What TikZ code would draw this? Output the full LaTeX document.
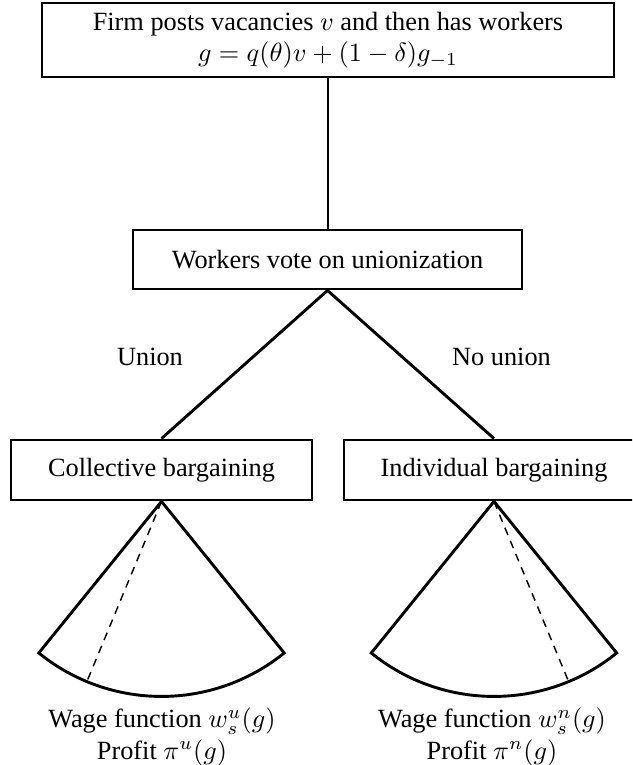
\documentclass[tikz,border=0pt]{standalone}
\usepackage[no-math]{fontspec}
\setmainfont{Liberation Serif}
\begin{document}
\begin{tikzpicture}[x=0.38pt,y=0.38pt,
  box/.style={draw,line width=1.1pt,inner sep=0pt,align=center},
  edge/.style={line width=1.1pt},
  guide/.style={line width=0.55pt,dash pattern=on 3pt off 2.4pt},
  label/.style={inner sep=0pt,align=center}]
\useasboundingbox (0,0) rectangle (632,765);
\clip (0,0) rectangle (632,765);

% stages of the game
\node[box,minimum width={572*0.38pt},minimum height={74*0.38pt}] (firm) at (328,725)
  {Firm posts vacancies $v$ and then has workers\\ $g = q(\theta)v + (1-\delta)g_{-1}$};
\node[box,minimum width={389*0.38pt},minimum height={59*0.38pt}] (vote) at (327.5,505.5)
  {Workers vote on unionization};
\node[box,minimum width={301*0.38pt},minimum height={60*0.38pt}] (coll) at (161.5,295)
  {Collective bargaining};
\node[box,minimum width={300*0.38pt},minimum height={60*0.38pt}] (indiv) at (494,295)
  {Individual bargaining};

% branches
\draw[edge] (firm.south) -- (firm.south |- vote.north);
\draw[edge] (vote.south) -- (coll.north);
\draw[edge] (vote.south) -- (indiv.north);
\node[label] (union) at (150,408) {Union};
\node[label] (nounion) at (501.5,408) {No union};

% bargaining fans
\draw[edge] (coll.south) -- ++(231:74.1pt) arc[start angle=231,end angle=309,radius=74.1pt] -- cycle;
\draw[guide] (coll.south) -- ++(247.5:74.1pt);
\draw[edge] (indiv.south) -- ++(231:74.1pt) arc[start angle=231,end angle=309,radius=74.1pt] -- cycle;
\draw[guide] (indiv.south) -- ++(292.5:74.1pt);

% outcomes
\node[label] (outu) at (162,28) {Wage function $w^u_s(g)$\\ Profit $\pi^u(g)$};
\node[label] (outn) at (492,28) {Wage function $w^n_s(g)$\\ Profit $\pi^n(g)$};
\end{tikzpicture}
\end{document}
